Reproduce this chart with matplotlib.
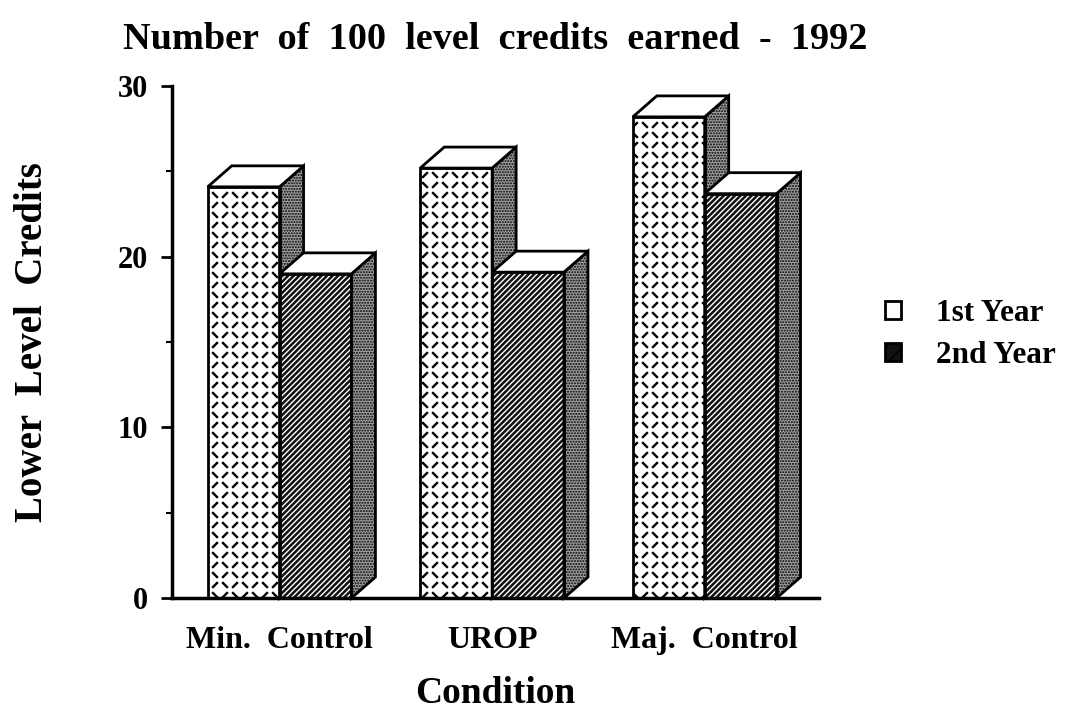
import warnings
import numpy as np
import matplotlib
matplotlib.use("Agg")
import matplotlib.pyplot as plt
import matplotlib.hatch as mhatch
from matplotlib.path import Path
from matplotlib.patches import Polygon, Patch

# data
conditions = ["Min.  Control", "UROP", "Maj.  Control"]
first_year = [24.1, 25.2, 28.2]
second_year = [19.0, 19.1, 23.7]
series_names = ["1st Year", "2nd Year"]


class DashedCross(mhatch.HatchPatternBase):
    # 'd' = crossed diagonal lines broken at every crossing (old mac fill)
    def __init__(self, hatch, density):
        self.m = 5 * hatch.count("d")
        self.segs = []
        if self.m:
            m = self.m
            step = 1.0 / (2 * m)
            for sign in (1, -1):
                for k in range(-2 * m, 2 * m + 1):
                    for j in range(-3 * m, 3 * m + 1):
                        c, d = k / m, j / m
                        xc = (d - c) / 2 if sign == 1 else (c - d) / 2
                        x0 = xc + 0.3 * step
                        x1 = xc + 0.7 * step
                        if x1 < -0.05 or x0 > 1.05:
                            continue
                        y0, y1 = sign * x0 + c, sign * x1 + c
                        if max(y0, y1) < -0.05 or min(y0, y1) > 1.05:
                            continue
                        self.segs.append((x0, y0, x1, y1))
        self.num_vertices = 2 * len(self.segs)

    def set_vertices_and_codes(self, vertices, codes):
        for i, (x0, y0, x1, y1) in enumerate(self.segs):
            vertices[2 * i] = (x0, y0)
            vertices[2 * i + 1] = (x1, y1)
            codes[2 * i] = Path.MOVETO
            codes[2 * i + 1] = Path.LINETO


mhatch._hatch_types.append(DashedCross)
warnings.filterwarnings("ignore", message=".*hatch.*")

plt.rcParams["font.family"] = ["Liberation Serif", "DejaVu Serif"]
plt.rcParams["font.weight"] = "bold"
plt.rcParams["hatch.linewidth"] = 1.0

# 3D look: bar width and depth offsets (data units)
W = 0.338
DX = 0.113
DY = 1.23

fig = plt.figure(figsize=(10.67, 7.12), dpi=100)
ax = fig.add_axes([0.161, 0.160, 0.607, 0.719])

x = np.arange(len(conditions))
has_hlw = hasattr(Patch, "set_hatch_linewidth")


def draw_3d(xs, heights, face, hatch, hatch_col, hatch_lw, z):
    kw = {"hatch_linewidth": hatch_lw} if has_hlw else {}
    # front faces through the bar api
    bars = ax.bar(xs, heights, W, align="edge", color=face, edgecolor=hatch_col,
                  hatch=hatch, linewidth=0, zorder=z, **kw)
    ax.bar(xs, heights, W, align="edge", fill=False, edgecolor="black",
           linewidth=2, zorder=z + 0.1)
    for b in bars:
        x0, h = b.get_x(), b.get_height()
        side = [(x0 + W, 0), (x0 + W, h), (x0 + W + DX, h + DY), (x0 + W + DX, DY)]
        top = [(x0, h), (x0 + DX, h + DY), (x0 + W + DX, h + DY), (x0 + W, h)]
        ax.add_patch(Polygon(side, closed=True, facecolor="#a0a0a0", edgecolor="black",
                             hatch="......", linewidth=2, zorder=z, clip_on=False))
        ax.add_patch(Polygon(top, closed=True, facecolor="white", edgecolor="black",
                             linewidth=2, zorder=z, clip_on=False))


draw_3d(x - W, first_year, "white", "d", "black", 1.7, 2)
draw_3d(x, second_year, "#111111", "//////", "white", 1.0, 4)

ax.set_xlim(-0.507, 2.54)
ax.set_ylim(0, 30)
ax.set_yticks([0, 10, 20, 30])
ax.set_yticks([5, 15, 25], minor=True)
ax.set_xticks(x)
ax.set_xticklabels(conditions)

for s in ["top", "right"]:
    ax.spines[s].set_visible(False)
for s in ["left", "bottom"]:
    ax.spines[s].set_linewidth(2.5)
    ax.spines[s].set_zorder(6)

ax.tick_params(axis="y", which="major", length=8, width=2, pad=9, labelsize=22)
ax.tick_params(axis="y", which="minor", length=4, width=1.5)
ax.tick_params(axis="x", length=0, pad=20, labelsize=23)

ax.set_xlabel("Condition", fontsize=27, fontweight="bold", labelpad=15)
ax.set_ylabel("Lower  Level  Credits", fontsize=28, fontweight="bold")
ax.yaxis.set_label_coords(-0.186, 0.5)
ax.set_title("Number  of  100  level  credits  earned  -  1992", fontsize=27.5,
             fontweight="bold", pad=27)

handles = [
    Patch(facecolor="white", edgecolor="black", hatch="\\", linewidth=2),
    Patch(facecolor="#111111", edgecolor="black", hatch="//", linewidth=2),
]
ax.legend(handles, series_names, loc="center left", bbox_to_anchor=(0.803, 0.530),
          bbox_transform=fig.transFigure, frameon=False, fontsize=22.5,
          handlelength=0.5, handleheight=0.5, handletextpad=1.15, labelspacing=0.4)

fig.savefig("out.png", dpi=100)
